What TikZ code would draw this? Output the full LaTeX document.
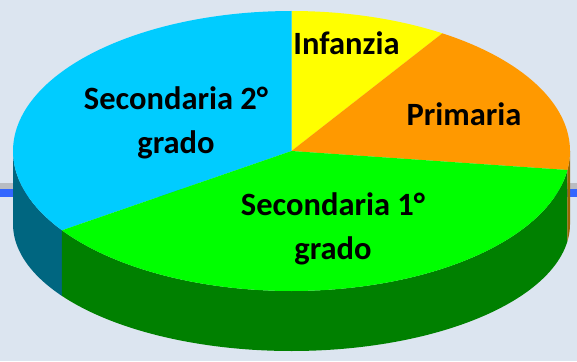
\documentclass[tikz,border=0pt]{standalone}
\usepackage{fontspec}
\setmainfont{Carlito}
\definecolor{bgcol}{HTML}{DCE5F0}
\definecolor{slcyan}{HTML}{00CCFF}
\definecolor{slyellow}{HTML}{FFFF00}
\definecolor{slorange}{HTML}{FF9900}
\definecolor{slgreen}{HTML}{00FF00}
\definecolor{sdgreen}{HTML}{008000}
\definecolor{sdteal}{HTML}{006680}
\definecolor{sdbrown}{HTML}{996600}
\definecolor{bandgrey}{HTML}{B8BCC2}
\definecolor{bandblue}{HTML}{3366FF}
\begin{document}
\begin{tikzpicture}[x=1pt,y=-1pt,
  lbl/.style={font=\fontsize{32.5}{44}\selectfont\bfseries, align=center, anchor=base, inner sep=0pt, text=black},
  face/.style={draw=none}]
% geometry (image pixel coordinates)
\def\cx{291.5}\def\cy{151}\def\rx{278.5}\def\ry{140}
\def\by{224}\def\bry{127}
\useasboundingbox (0,0) rectangle (577,361);
\fill[bgcol] (0,0) rectangle (577,361);
% horizontal band behind the pie
\fill[bandgrey] (0,182.5) rectangle (577,188.5);
\fill[bandblue] (0,188.5) rectangle (577,196.5);
% side faces
\fill[sdteal] plot[domain=180:214.5,samples=40] ({\cx+\rx*cos(\x)},{\cy-\ry*sin(\x)})
  -- plot[domain=214.5:180,samples=40] ({\cx+\rx*cos(\x)},{\by-\bry*sin(\x)}) -- cycle;
\fill[sdgreen] plot[domain=214.5:352.2,samples=120] ({\cx+\rx*cos(\x)},{\cy-\ry*sin(\x)})
  -- plot[domain=352.2:214.5,samples=120] ({\cx+\rx*cos(\x)},{\by-\bry*sin(\x)}) -- cycle;
\fill[sdbrown] plot[domain=352.2:360,samples=20] ({\cx+\rx*cos(\x)},{\cy-\ry*sin(\x)})
  -- plot[domain=360:352.2,samples=20] ({\cx+\rx*cos(\x)},{\by-\bry*sin(\x)}) -- cycle;
% top faces
\coordinate (c) at (\cx,\cy);
\fill[slyellow] (c) -- plot[domain=57.2:90,samples=40] ({\cx+\rx*cos(\x)},{\cy-\ry*sin(\x)}) -- cycle;
\fill[slorange] (c) -- plot[domain=-7.8:57.2,samples=60] ({\cx+\rx*cos(\x)},{\cy-\ry*sin(\x)}) -- cycle;
\fill[slcyan] (c) -- plot[domain=90:214.5,samples=100] ({\cx+\rx*cos(\x)},{\cy-\ry*sin(\x)}) -- cycle;
\fill[slgreen] (c) -- plot[domain=214.5:352.2,samples=120] ({\cx+\rx*cos(\x)},{\cy-\ry*sin(\x)}) -- cycle;
% labels (base anchor = baseline of the last line)
\node[lbl] (infanzia) at (346.5,54) {Infanzia};
\node[lbl] (primaria) at (464,125) {Primaria};
\node[lbl] (sec2) at (176,153.3) {Secondaria 2°\\grado};
\node[lbl] (sec1) at (333,259) {Secondaria 1°\\grado};
\end{tikzpicture}
\end{document}
